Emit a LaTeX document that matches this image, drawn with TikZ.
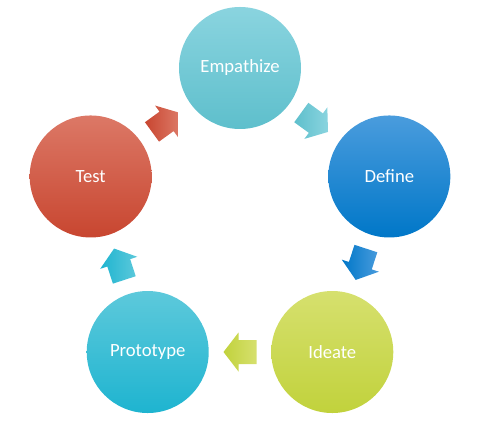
\documentclass[tikz,border=0pt]{standalone}
\usepackage{fontspec}
\setmainfont{Carlito}
\usetikzlibrary{calc}
\definecolor{EmpTop}{HTML}{8AD4DF}
\definecolor{EmpBot}{HTML}{5EBFCC}
\definecolor{DefTop}{HTML}{4A9CDD}
\definecolor{DefBot}{HTML}{0077C8}
\definecolor{IdeTop}{HTML}{D6E06E}
\definecolor{IdeBot}{HTML}{C1D23C}
\definecolor{ProTop}{HTML}{5DC9DB}
\definecolor{ProBot}{HTML}{1EB4D0}
\definecolor{TesTop}{HTML}{DC7866}
\definecolor{TesBot}{HTML}{C84630}
\tikzset{
  phase/.style={circle,minimum size=91.5pt,inner sep=0pt,text=white,
    font=\fontsize{14}{16}\selectfont,top color=#1Top,bottom color=#1Bot},
}
\begin{document}
\begin{tikzpicture}[x=0.75pt,y=0.75pt]
\path[use as bounding box] (0,0) rectangle (482,431);
\coordinate (mid) at (240,206);
% the five phases round a pentagon
\node[phase=Emp] (emp) at ($(mid)+(90:157)$) {Empathize};
\node[phase=Def] (def) at ($(mid)+(18:157)$) {Define};
\node[phase=Ide] (ide) at ($(mid)+(-54:157)$) {Ideate};
\node[phase=Pro] (pro) at ($(mid)+(-126:157)$) {Prototype};
\node[phase=Tes] (tes) at ($(mid)+(162:157)$) {Test};
% block arrows between the phases
\foreach \a/\b/\ang/\col in {emp/def/-36/Emp,def/ide/-108/Def,ide/pro/180/Ide,
    pro/tes/108/Pro,tes/emp/36/Tes}{
  \begin{scope}[shift={($(\a)!0.5!(\b)$)},rotate=\ang]
    \shade[left color=\col Bot,right color=\col Top]
      (-16.5,-12) -- (1.5,-12) -- (1.5,-19.5) -- (16.5,0) -- (1.5,19.5)
      -- (1.5,12) -- (-16.5,12) -- cycle;
  \end{scope}
}
\end{tikzpicture}
\end{document}
